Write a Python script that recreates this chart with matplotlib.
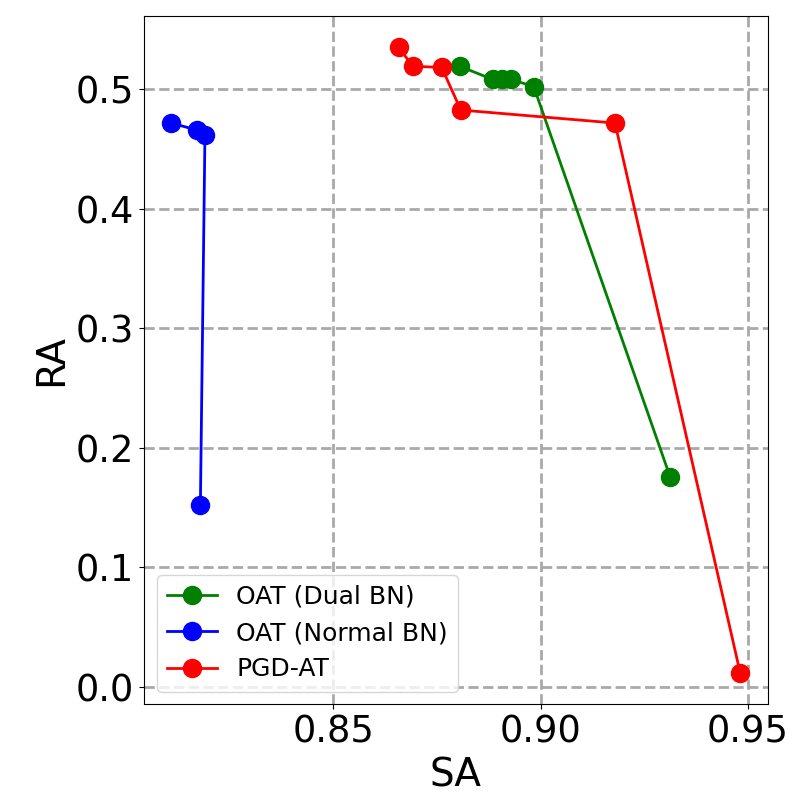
import matplotlib
matplotlib.use('Agg')
import matplotlib.pyplot as plt

# OAT (Dual BN)
dual_sa = [0.8804, 0.8884, 0.8906, 0.8928, 0.8983, 0.9312]
dual_ra = [0.519, 0.508, 0.508, 0.508, 0.502, 0.1756]

# OAT (Normal BN)
normal_sa = [0.8109, 0.8172, 0.8190, 0.8179]
normal_ra = [0.4715, 0.4655, 0.4615, 0.152]

# PGD-AT
pgd_sa = [0.8657, 0.8691, 0.8761, 0.8807, 0.9179, 0.9481]
pgd_ra = [0.535, 0.519, 0.518, 0.4824, 0.4715, 0.0117]

fig, ax = plt.subplots(figsize=(8, 8), dpi=100)
ax.plot(dual_sa, dual_ra, 'o-', color='green', markersize=13, linewidth=2, label='OAT (Dual BN)')
ax.plot(normal_sa, normal_ra, 'o-', color='blue', markersize=13, linewidth=2, label='OAT (Normal BN)')
ax.plot(pgd_sa, pgd_ra, 'o-', color='red', markersize=13, linewidth=2, label='PGD-AT')

ax.set_xlabel('SA', fontsize=28)
ax.set_ylabel('RA', fontsize=28)
ax.set_xticks([0.85, 0.90, 0.95])
ax.set_xlim(0.8043, 0.9548)
ax.set_ylim(-0.0142, 0.561)
ax.tick_params(labelsize=26.5)
ax.grid(True, linestyle='--', linewidth=2, color='darkgray')
ax.legend(loc='lower left', fontsize=18)

plt.subplots_adjust(left=0.18, right=0.96, top=0.98, bottom=0.12)
plt.savefig('out.png', dpi=100)
